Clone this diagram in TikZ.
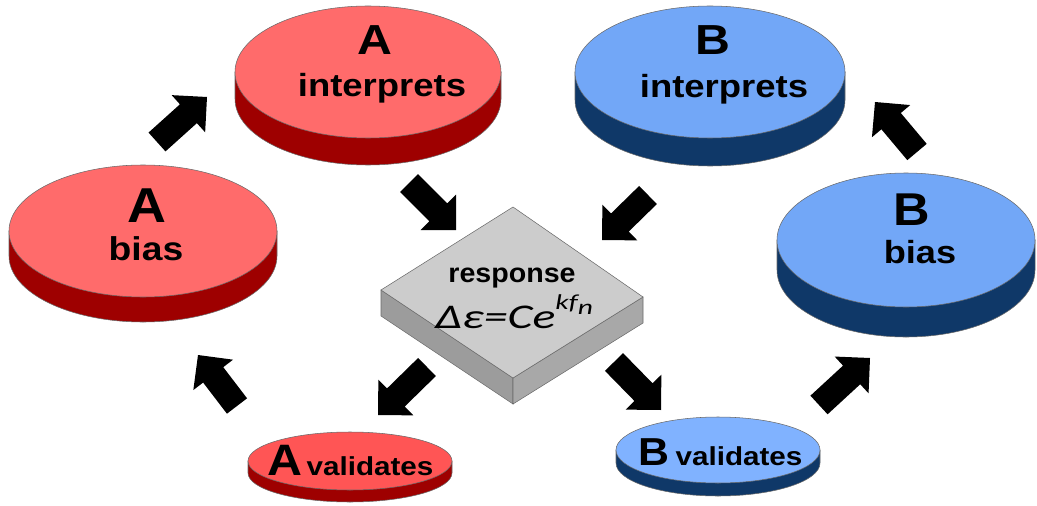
\documentclass[tikz,border=0pt]{standalone}
\usepackage{fontspec}
\setmainfont{Liberation Sans}
\newfontfamily\calfont{Carlito}
\usetikzlibrary{shapes.geometric, calc}

\definecolor{redtop}{HTML}{FF6B6B}
\definecolor{redval}{HTML}{FF5555}
\definecolor{redside}{HTML}{9E0000}
\definecolor{bluetop}{HTML}{72A7F7}
\definecolor{blueval}{HTML}{80B2FF}
\definecolor{blueside}{HTML}{0F3868}
\definecolor{edge}{HTML}{6A6A6A}

\begin{document}
\begin{tikzpicture}[
        x=0.75pt, y=-0.75pt,
        disc/.style={ellipse, draw=edge, thin, inner sep=0pt},
        lbl/.style={anchor=base, inner sep=0pt, font=\bfseries\fontsize{#1}{#1}\selectfont},
        blockarrow/.style={fill=black, to path={
                    ($(\tikztostart)!9.5pt!90:(\tikztotarget)$)
                    -- ($(\tikztotarget)!18.75pt!(\tikztostart)!9.5pt!90:(\tikztotarget)$)
                    -- ($(\tikztotarget)!18.75pt!(\tikztostart)!18.75pt!90:(\tikztotarget)$)
                    -- (\tikztotarget)
                    -- ($(\tikztotarget)!18.75pt!(\tikztostart)!18.75pt!-90:(\tikztotarget)$)
                    -- ($(\tikztotarget)!18.75pt!(\tikztostart)!9.5pt!-90:(\tikztotarget)$)
                    -- ($(\tikztostart)!9.5pt!-90:(\tikztotarget)$) -- cycle}}
    ]
    \useasboundingbox (0,0) rectangle (1037,506);

    % Discs: name/x/y/rx/ry/depth/top/side
    \foreach \n/\x/\y/\rx/\ry/\t/\tc/\sc in {
            aint/368/72/133/66/27/redtop/redside,
            bint/710/72/135/66/28/bluetop/blueside,
            abias/143/231/134/66/25/redtop/redside,
            bbias/906/240/129/67/30/bluetop/blueside,
            aval/350/461/102/29/12/redval/redside,
            bval/718/450/102/33/13/blueval/blueside} {
            \fill[\sc, draw=edge, thin] (\x-\rx,\y) -- (\x-\rx,\y+\t)
            arc[start angle=180, end angle=0, x radius=\rx, y radius=\ry]
            -- (\x+\rx,\y) -- cycle;
            \node[disc, fill=\tc, minimum width=1.5*\rx pt, minimum height=1.5*\ry pt] (\n) at (\x,\y) {};
        }

    % Labels
    \node[lbl=31.5] (aint-a) at (375,55) {\scalebox{1.15}[1]{A}};
    \node[lbl=24] (aint-b) at (382,97) {\scalebox{1.14}[1]{interprets}};
    \node[lbl=31.5] (bint-a) at (713,55) {\scalebox{1.15}[1]{B}};
    \node[lbl=24] (bint-b) at (724,98) {\scalebox{1.14}[1]{interprets}};
    \node[lbl=36.75] (abias-a) at (147,222) {\scalebox{1.1}[1]{A}};
    \node[lbl=24.75] (abias-b) at (146,260) {\scalebox{1.13}[1]{bias}};
    \node[lbl=34.5] (bbias-a) at (912,225) {\scalebox{1.1}[1]{B}};
    \node[lbl=24] (bbias-b) at (920,263) {\scalebox{1.13}[1]{bias}};
    \node[lbl=33] (aval-a) at (285,475) {\scalebox{1.1}[1]{A}};
    \node[lbl=19.5] (aval-b) at (370,475) {\scalebox{1.14}[1]{validates}};
    \node[lbl=29.25] (bval-a) at (654,465) {\scalebox{1.1}[1]{B}};
    \node[lbl=19.5] (bval-b) at (739,465) {\scalebox{1.14}[1]{validates}};

    % Response block
    \coordinate (bt) at (513,207);
    \coordinate (br) at (643,297);
    \coordinate (bb) at (513,378);
    \coordinate (bl) at (381,290);
    \fill[gray!78, draw=edge, thin] (bl) -- (bb) -- ($(bb)+(0,26)$) -- ($(bl)+(0,26)$) -- cycle;
    \fill[gray!68, draw=edge, thin] (bb) -- (br) -- ($(br)+(0,26)$) -- ($(bb)+(0,26)$) -- cycle;
    \fill[gray!40, draw=edge, thin] (bt) -- (br) -- (bb) -- (bl) -- cycle;
    \node[lbl=20.25] (resp) at (512,282) {\scalebox{1.06}[1]{response}};
    \node[anchor=base, inner sep=0pt] (formula) at (514,328)
    {\scalebox{1.38}[1]{\calfont\itshape\fontsize{26}{26}\selectfont Δε=Ce\raisebox{14pt}{\fontsize{16}{16}\selectfont kf\raisebox{-3.75pt}{n}}}};

    % Arrows
    \coordinate (t1) at (157,142); \coordinate (h1) at (207,97);
    \coordinate (t2) at (409,183); \coordinate (h2) at (456,230);
    \coordinate (t3) at (648,195); \coordinate (h3) at (602,240);
    \coordinate (t4) at (427,367); \coordinate (h4) at (378,415);
    \coordinate (t5) at (614,362); \coordinate (h5) at (661,410);
    \coordinate (t6) at (237,406); \coordinate (h6) at (198,355);
    \coordinate (t7) at (819,405); \coordinate (h7) at (870,358);
    \coordinate (t8) at (917,152); \coordinate (h8) at (875,102);
    \foreach \i in {1,...,8} {
            \path[blockarrow] (t\i) to (h\i);
        }
\end{tikzpicture}
\end{document}
